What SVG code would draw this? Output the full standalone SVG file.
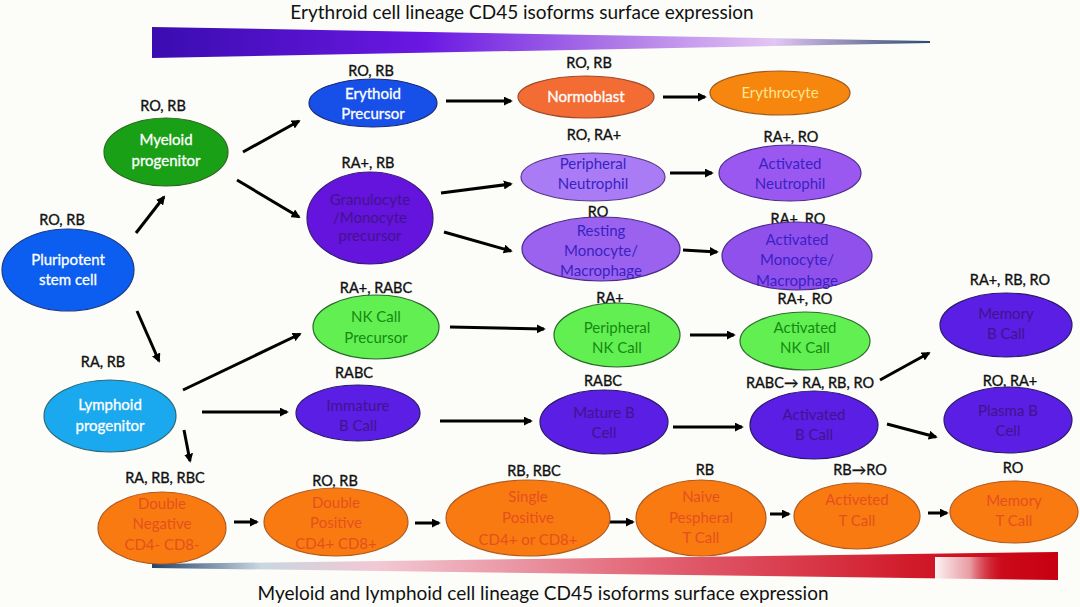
<svg xmlns="http://www.w3.org/2000/svg" width="1080" height="607" viewBox="0 0 1080 607">
<style>
text{font-family:Lato,"Open Sans","Liberation Sans",sans-serif;text-anchor:middle}
.t{font-size:19px;fill:#111}
.l{font-size:14.5px;fill:#111;stroke:#111;stroke-width:0.35}
.n{font-size:15px}
.w{fill:#fff;stroke:#fff;stroke-width:0.3}
.ey{fill:#ffe58e}
.pd{fill:#44128e}
.pb{fill:#3a22c4}
.gd{fill:#148a10}
.od{fill:#e4501c}
.conn line{stroke:#000;stroke-width:3;marker-end:url(#ah)}
ellipse{stroke-width:1.2}
</style>
<defs>
<marker id="ah" viewBox="0 0 10 10" refX="8" refY="5" markerWidth="3" markerHeight="3" orient="auto">
<path d="M0,0 L10,5 L0,10 z" fill="#000"/>
</marker>
<linearGradient id="gtop" x1="0" y1="0" x2="1" y2="0">
<stop offset="0" stop-color="#3a0cb0"/>
<stop offset="0.35" stop-color="#6a18e2"/>
<stop offset="0.6" stop-color="#b07ae8"/>
<stop offset="0.8" stop-color="#e2c6f4"/>
<stop offset="1" stop-color="#2e4a6e"/>
</linearGradient>
<linearGradient id="gbot" x1="0" y1="0" x2="1" y2="0">
<stop offset="0" stop-color="#24446a"/>
<stop offset="0.12" stop-color="#c9d6e0"/>
<stop offset="0.25" stop-color="#f2c8d4"/>
<stop offset="0.55" stop-color="#e26475"/>
<stop offset="0.85" stop-color="#d01828"/>
<stop offset="1" stop-color="#c80010"/>
</linearGradient>
<linearGradient id="gpatch" x1="0" y1="0" x2="1" y2="0">
<stop offset="0" stop-color="#ffffff" stop-opacity="0.95"/>
<stop offset="0.5" stop-color="#f4d8dc" stop-opacity="0.7"/>
<stop offset="1" stop-color="#d02030" stop-opacity="0"/>
</linearGradient>
</defs>
<rect width="1080" height="607" fill="#fcfdf9"/>

<text class="t" x="522" y="19">Erythroid cell lineage CD45 isoforms surface expression</text>
<polygon points="152,27 930,41 930,43 152,58" fill="url(#gtop)"/>
<polygon points="152,564 1058,552 1058,580 152,568" fill="url(#gbot)"/>
<rect x="935" y="557" width="70" height="22" fill="url(#gpatch)"/>
<text class="t" x="543" y="600">Myeloid and lymphoid cell lineage CD45 isoforms surface expression</text>

<g id="connectors" class="conn">
<line x1="136" y1="233" x2="164" y2="197"/>
<line x1="137" y1="311" x2="159" y2="361"/>
<line x1="243" y1="152" x2="299" y2="121"/>
<line x1="237" y1="180" x2="299" y2="217"/>
<line x1="446" y1="101" x2="511" y2="101"/>
<line x1="663" y1="97" x2="705" y2="97"/>
<line x1="441" y1="193" x2="511" y2="184"/>
<line x1="444" y1="232" x2="511" y2="251"/>
<line x1="670" y1="173" x2="712" y2="173"/>
<line x1="683" y1="250" x2="717" y2="252"/>
<line x1="183" y1="390" x2="300" y2="334"/>
<line x1="450" y1="327" x2="544" y2="329"/>
<line x1="690" y1="335" x2="734" y2="335"/>
<line x1="880" y1="380" x2="929" y2="353"/>
<line x1="202" y1="412" x2="287" y2="412"/>
<line x1="440" y1="421" x2="531" y2="421"/>
<line x1="673" y1="427" x2="742" y2="427"/>
<line x1="887" y1="424" x2="936" y2="437"/>
<line x1="184" y1="430" x2="190" y2="461"/>
<line x1="234" y1="522" x2="257" y2="522"/>
<line x1="415" y1="523" x2="439" y2="523"/>
<line x1="609" y1="522" x2="633" y2="522"/>
<line x1="770" y1="514" x2="789" y2="514"/>
<line x1="928" y1="513" x2="947" y2="513"/>
</g>

<g id="pluripotent">
<text class="l" x="62" y="225">RO, RB</text>
<ellipse cx="68" cy="270" rx="66" ry="41" fill="#0b5ef0" stroke="#1a3a8a"/>
<text class="n w" x="68" y="265">Pluripotent</text>
<text class="n w" x="68" y="285">stem cell</text>
</g>
<g id="myeloid">
<text class="l" x="163" y="111">RO, RB</text>
<ellipse cx="166" cy="152" rx="62" ry="34" fill="#19a016" stroke="#2a6a20"/>
<text class="n w" x="166" y="145">Myeloid</text>
<text class="n w" x="166" y="166">progenitor</text>
</g>
<g id="lymphoid">
<text class="l" x="103" y="367">RA, RB</text>
<ellipse cx="110" cy="416" rx="66" ry="36" fill="#1aa8ee" stroke="#2a6a7a"/>
<text class="n w" x="110" y="410">Lymphoid</text>
<text class="n w" x="110" y="431">progenitor</text>
</g>
<g id="erythoid">
<text class="l" x="371" y="76">RO, RB</text>
<ellipse cx="373" cy="103" rx="64" ry="24" fill="#1650e8" stroke="#1a2a7a"/>
<text class="n w" x="373" y="99">Erythoid</text>
<text class="n w" x="373" y="119">Precursor</text>
</g>
<g id="normoblast">
<text class="l" x="589" y="68">RO, RB</text>
<ellipse cx="586" cy="97" rx="68" ry="21" fill="#f26c34" stroke="#a04a2a"/>
<text class="n w" x="586" y="102">Normoblast</text>
</g>
<g id="erythrocyte">
<ellipse cx="780" cy="93" rx="70" ry="22" fill="#f7860e" stroke="#a05a1a"/>
<text class="n ey" x="780" y="98">Erythrocyte</text>
</g>
<g id="granulocyte">
<text class="l" x="368" y="168">RA+, RB</text>
<ellipse cx="370" cy="218" rx="63" ry="46" fill="#6414dc" stroke="#3a1a7a"/>
<text class="n pd" x="370" y="205">Granulocyte</text>
<text class="n pd" x="370" y="223">/Monocyte</text>
<text class="n pd" x="370" y="241">precursor</text>
</g>
<g id="periph-neutrophil">
<text class="l" x="594" y="140">RO, RA+</text>
<ellipse cx="593" cy="177" rx="72" ry="24" fill="#a97bf4" stroke="#5a3a8a"/>
<text class="n pb" x="593" y="169">Peripheral</text>
<text class="n pb" x="593" y="189">Neutrophil</text>
</g>
<g id="act-neutrophil">
<text class="l" x="791" y="142">RA+, RO</text>
<ellipse cx="790" cy="173" rx="71" ry="28" fill="#9b58f0" stroke="#4a2a8a"/>
<text class="n pb" x="790" y="169">Activated</text>
<text class="n pb" x="790" y="189">Neutrophil</text>
</g>
<g id="resting-monocyte">
<text class="l" x="598" y="217">RO</text>
<ellipse cx="601" cy="249" rx="79" ry="32" fill="#9a62ee" stroke="#4a2a8a"/>
<text class="n pb" x="601" y="236">Resting</text>
<text class="n pb" x="601" y="256">Monocyte/</text>
<text class="n pb" x="601" y="276">Macrophage</text>
</g>
<g id="act-monocyte">
<text class="l" x="798" y="224">RA+, RO</text>
<ellipse cx="797" cy="256" rx="75" ry="34" fill="#9050ec" stroke="#4a2a8a"/>
<text class="n pb" x="797" y="245">Activated</text>
<text class="n pb" x="797" y="265">Monocyte/</text>
<text class="n pb" x="797" y="286">Macrophage</text>
</g>
<g id="nk-precursor">
<text class="l" x="376" y="293">RA+, RABC</text>
<ellipse cx="376" cy="327" rx="63" ry="32" fill="#62ef52" stroke="#2a6a2a"/>
<text class="n gd" x="376" y="322">NK Call</text>
<text class="n gd" x="376" y="343">Precursor</text>
</g>
<g id="periph-nk">
<text class="l" x="610" y="303">RA+</text>
<ellipse cx="617" cy="335" rx="63" ry="32" fill="#62ef52" stroke="#2a6a2a"/>
<text class="n gd" x="617" y="333">Peripheral</text>
<text class="n gd" x="617" y="353">NK Call</text>
</g>
<g id="act-nk">
<text class="l" x="805" y="304">RA+, RO</text>
<ellipse cx="805" cy="341" rx="65" ry="29" fill="#62ef52" stroke="#2a6a2a"/>
<text class="n gd" x="805" y="333">Activated</text>
<text class="n gd" x="805" y="353">NK Call</text>
</g>
<g id="memory-b">
<text class="l" x="1010" y="285">RA+, RB, RO</text>
<ellipse cx="1006" cy="325" rx="66" ry="32" fill="#5a1ee4" stroke="#2a1a6a"/>
<text class="n pd" x="1006" y="319">Memory</text>
<text class="n pd" x="1006" y="339">B Call</text>
</g>
<g id="immature-b">
<text class="l" x="354" y="378">RABC</text>
<ellipse cx="358" cy="413" rx="62" ry="28" fill="#5a1ee4" stroke="#2a1a6a"/>
<text class="n pd" x="358" y="411">Immature</text>
<text class="n pd" x="358" y="431">B Call</text>
</g>
<g id="mature-b">
<text class="l" x="603" y="386">RABC</text>
<ellipse cx="604" cy="422" rx="64" ry="32" fill="#5a1ee4" stroke="#2a1a6a"/>
<text class="n pd" x="604" y="418">Mature B</text>
<text class="n pd" x="604" y="438">Cell</text>
</g>
<g id="activated-b">
<text class="l" x="810" y="388">RABC→ RA, RB, RO</text>
<ellipse cx="814" cy="425" rx="64" ry="34" fill="#5a1ee4" stroke="#2a1a6a"/>
<text class="n pd" x="814" y="420">Activated</text>
<text class="n pd" x="814" y="440">B Call</text>
</g>
<g id="plasma-b">
<text class="l" x="1010" y="386">RO, RA+</text>
<ellipse cx="1008" cy="420" rx="64" ry="33" fill="#5a1ee4" stroke="#2a1a6a"/>
<text class="n pd" x="1008" y="416">Plasma B</text>
<text class="n pd" x="1008" y="436">Cell</text>
</g>
<g id="double-negative">
<text class="l" x="165" y="483">RA, RB, RBC</text>
<ellipse cx="162" cy="528" rx="64" ry="36" fill="#fa7a12" stroke="#b05a20"/>
<text class="n od" x="162" y="509">Double</text>
<text class="n od" x="162" y="529">Negative</text>
<text class="n od" x="162" y="550">CD4- CD8-</text>
</g>
<g id="double-positive">
<text class="l" x="335" y="486">RO, RB</text>
<ellipse cx="336" cy="522" rx="72" ry="34" fill="#fa7a12" stroke="#b05a20"/>
<text class="n od" x="336" y="508">Double</text>
<text class="n od" x="336" y="528">Positive</text>
<text class="n od" x="336" y="549">CD4+ CD8+</text>
</g>
<g id="single-positive">
<text class="l" x="534" y="476">RB, RBC</text>
<ellipse cx="528" cy="518" rx="82" ry="38" fill="#fa7a12" stroke="#b05a20"/>
<text class="n od" x="528" y="502">Single</text>
<text class="n od" x="528" y="523">Positive</text>
<text class="n od" x="528" y="545">CD4+ or CD8+</text>
</g>
<g id="naive-t">
<text class="l" x="705" y="475">RB</text>
<ellipse cx="701" cy="518" rx="65" ry="38" fill="#fa7a12" stroke="#b05a20"/>
<text class="n od" x="701" y="502">Naive</text>
<text class="n od" x="701" y="523">Pespheral</text>
<text class="n od" x="701" y="543">T Call</text>
</g>
<g id="activated-t">
<text class="l" x="860" y="475">RB→RO</text>
<ellipse cx="857" cy="516" rx="63" ry="33" fill="#fa7a12" stroke="#b05a20"/>
<text class="n od" x="857" y="505">Activeted</text>
<text class="n od" x="857" y="526">T Call</text>
</g>
<g id="memory-t">
<text class="l" x="1013" y="473">RO</text>
<ellipse cx="1014" cy="512" rx="64" ry="31" fill="#fa7a12" stroke="#b05a20"/>
<text class="n od" x="1014" y="506">Memory</text>
<text class="n od" x="1014" y="526">T Call</text>
</g>
</svg>
